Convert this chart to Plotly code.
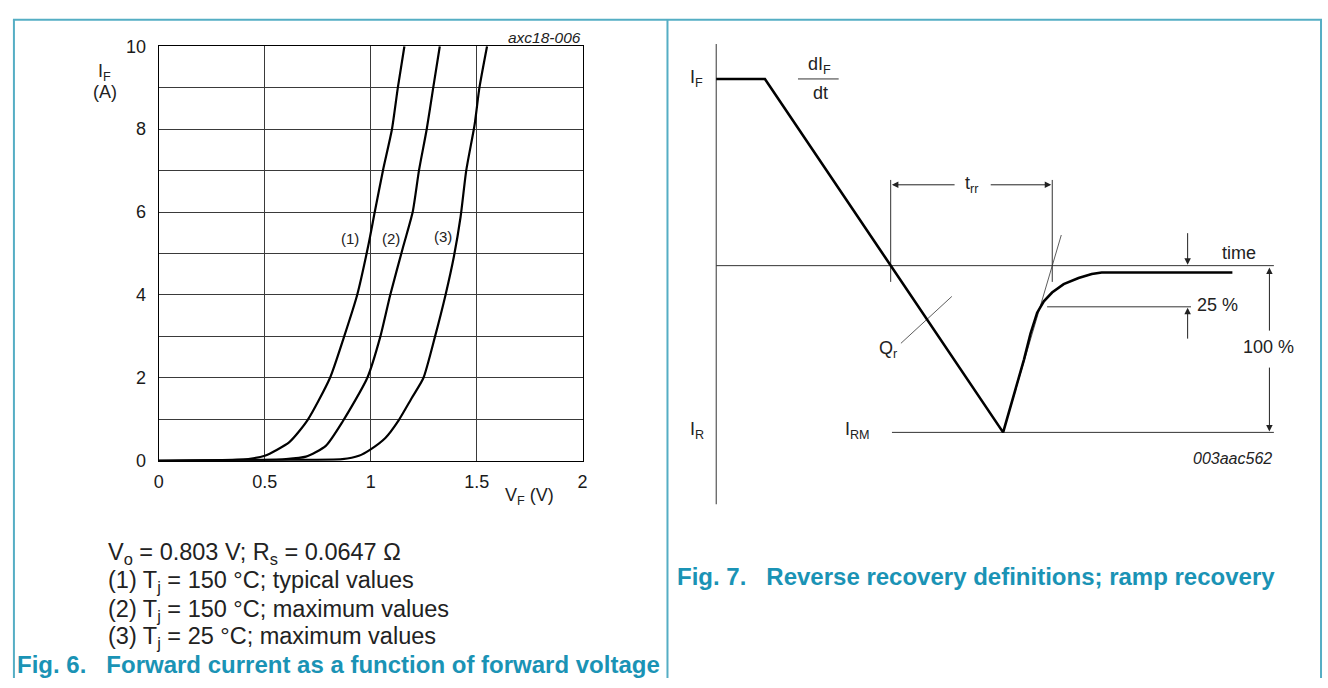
import plotly.graph_objects as go

W, H = 1328, 688
FONT = "Liberation Sans, Arial, sans-serif"
TEAL = "#1a93b5"
BORDER = "#55aec4"

def PX(x):
    return x / W

def PY(y):
    return 1 - y / H

# ---- Fig. 6 data: forward current vs forward voltage ----
vf_1 = [0, 0.30, 0.43, 0.50, 0.616, 0.702, 0.807, 0.874, 0.936, 0.988, 1.019, 1.058, 1.10, 1.128, 1.159]
if_1 = [0, 0.02, 0.05, 0.12, 0.45, 0.98, 1.99, 2.99, 4.00, 5.18, 6.00, 7.01, 7.99, 9.00, 10.0]
vf_2 = [0, 0.45, 0.60, 0.694, 0.788, 0.869, 0.983, 1.045, 1.092, 1.154, 1.198, 1.228, 1.264, 1.295, 1.326]
if_2 = [0, 0.02, 0.04, 0.10, 0.36, 0.96, 1.99, 2.99, 4.00, 5.18, 6.00, 7.01, 7.99, 9.00, 10.0]
vf_3 = [0, 0.60, 0.866, 0.944, 0.998, 1.069, 1.131, 1.193, 1.248, 1.303, 1.353, 1.393, 1.424, 1.451, 1.49, 1.513, 1.549]
if_3 = [0, 0.02, 0.04, 0.12, 0.27, 0.55, 0.97, 1.51, 1.99, 2.99, 4.00, 4.94, 5.88, 7.01, 8.10, 9.00, 10.0]
curve_labels = ["(1)", "(2)", "(3)"]
x_ticks = [0, 0.5, 1, 1.5, 2]
x_ticktext = ["0", "0.5", "1", "1.5", "2"]
y_ticks = list(range(0, 11))
y_ticktext = ["0", "", "2", "", "4", "", "6", "", "8", "", "10"]

# ---- Fig. 7 data: reverse recovery waveform (arbitrary time units, current in units of I_F) ----
wave_t = [0, 4.91, 28.91, 31.01, 31.67, 32.34, 33.01, 33.84, 35.01, 36.51, 37.84, 38.84, 52.01]
wave_i = [1.0, 1.0, -0.893, -0.503, -0.364, -0.252, -0.191, -0.144, -0.0988, -0.066, -0.045, -0.0364, -0.0364]
i_rm = -0.893
t_zero_cross = 17.58
t_rr_end = 33.86
tangent_t = [28.91, 34.77]
tangent_i = [-0.893, 0.164]
qr_t = [23.74, 18.61]
qr_i = [-0.165, -0.416]
level_25 = -0.2205

fig = go.Figure()

# Fig. 6 curves
for vx, iy in [(vf_1, if_1), (vf_2, if_2), (vf_3, if_3)]:
    fig.add_trace(go.Scatter(x=vx, y=iy, mode="lines",
                             line=dict(color="black", width=2.2, shape="spline", smoothing=0.6),
                             hoverinfo="skip", showlegend=False, xaxis="x", yaxis="y"))

# Fig. 7 waveform and construction lines
thin = dict(color="#333333", width=1)
def line2(t, i, ln):
    fig.add_trace(go.Scatter(x=t, y=i, mode="lines", line=ln, hoverinfo="skip",
                             showlegend=False, xaxis="x2", yaxis="y2"))

line2([0, 0], [1.187, -1.278], thin)                 # vertical axis
line2([0, 56.19], [0, 0], thin)                      # time axis
line2([t_zero_cross, t_zero_cross], [0.459, -0.087], thin)
line2([t_rr_end, t_rr_end], [0.459, -0.087], thin)
line2(tangent_t, tangent_i, dict(color="#333333", width=0.8))
line2(qr_t, qr_i, dict(color="#333333", width=0.8))
line2([33.34, 47.84], [level_25, level_25], thin)
line2([17.71, 56.19], [i_rm, i_rm], thin)
line2(wave_t, wave_i, dict(color="black", width=2.6))

# Diagram axes ranges (time unit = 10 px, current unit = 192.3 px)
x2_lo = (667 - 716.6) / 10.0
x2_hi = (1328 - 716.6) / 10.0
y2_lo = (263.3 - 688) / 192.3
y2_hi = (263.3 - 0) / 192.3

tickfont = dict(family=FONT, size=18, color="#1a1a1a")
fig.update_layout(
    width=W, height=H, autosize=False,
    margin=dict(l=0, r=0, t=0, b=0),
    paper_bgcolor="white", plot_bgcolor="rgba(0,0,0,0)",
    font=dict(family=FONT, color="#222222"),
    xaxis=dict(domain=[PX(155), PX(582)], range=[0, 2], tickvals=x_ticks, ticktext=x_ticktext,
               showgrid=True, gridcolor="#3a3a3a", gridwidth=1, zeroline=False,
               showline=True, mirror=True, linecolor="black", linewidth=1.2,
               ticks="", tickfont=tickfont, ticklabelstandoff=4, fixedrange=True),
    yaxis=dict(domain=[PY(464.3), PY(37.3)], range=[0, 10], tickvals=y_ticks,
               ticktext=y_ticktext, showgrid=True, gridcolor="#3a3a3a", gridwidth=1, zeroline=False,
               showline=True, mirror=True, linecolor="black", linewidth=1.2,
               ticks="", tickfont=tickfont, ticklabelstandoff=8, fixedrange=True),
    xaxis2=dict(domain=[PX(667), 1.0], range=[x2_lo, x2_hi], visible=False, anchor="y2", fixedrange=True),
    yaxis2=dict(domain=[0, 1], range=[y2_lo, y2_hi], visible=False, anchor="x2", fixedrange=True),
)

# Panel borders (paper coords)
def pline(x0, y0, x1, y1):
    fig.add_shape(type="line", xref="paper", yref="paper",
                  x0=PX(x0), x1=PX(x1), y0=PY(y0), y1=PY(y1),
                  line=dict(color=BORDER, width=2))
pline(8, 10, 1327, 10)
pline(9, 10, 9, 688)
pline(667.5, 10, 667.5, 688)
pline(1326, 10, 1326, 688)

# dI/dt fraction bar
fig.add_shape(type="line", xref="x2", yref="y2", x0=8.24, x1=12.34, y0=1.0, y1=1.0,
              line=dict(color="#333333", width=1))

ann = []
def txt(x, y, s, size=17, xref="paper", yref="paper", xanchor="center", yanchor="middle", **kw):
    if xref == "paper":
        x = PX(x)
    if yref == "paper":
        y = PY(y)
    ann.append(dict(x=x, y=y, xref=xref, yref=yref, text=s, showarrow=False,
                    xanchor=xanchor, yanchor=yanchor,
                    font=dict(family=FONT, size=size, color=kw.pop("color", "#222222")), **kw))

# Fig. 6 texts
txt(582, 28, "<i>axc18-006</i>", size=15.5, xanchor="right")
txt(100, 64, "I<sub>F</sub>", size=18)
txt(101, 84, "(A)", size=18)
txt(528, 501, "V<sub>F</sub> (V)", size=18)
for lbl, vx, iy in zip(curve_labels, [0.903, 1.095, 1.342], [5.37, 5.37, 5.42]):
    txt(vx, iy, lbl, size=15, xref="x", yref="y")
txt(102, 560, "V<sub>o</sub> = 0.803 V; R<sub>s</sub> = 0.0647 Ω", size=23.5, xanchor="left")
txt(102, 589, "(1) T<sub>j</sub> = 150 °C; typical values", size=23.5, xanchor="left")
txt(102, 618, "(2) T<sub>j</sub> = 150 °C; maximum values", size=23.5, xanchor="left")
txt(102, 646, "(3) T<sub>j</sub> = 25 °C; maximum values", size=23.5, xanchor="left")
txt(10, 674, "<b>Fig. 6.\u00a0\u00a0 Forward current as a function of forward voltage</b>", size=24,
    xanchor="left", color=TEAL)

# Fig. 7 texts
txt(-1.96, 1.0, "I<sub>F</sub>", size=18, xref="x2", yref="y2")
txt(10.4, 1.073, "dI<sub>F</sub>", size=18, xref="x2", yref="y2")
txt(10.5, 0.925, "dt", size=18, xref="x2", yref="y2")
txt(25.74, 0.433, "t<sub>rr</sub>", size=18, xref="x2", yref="y2")
txt(52.64, 0.069, "time", size=18, xref="x2", yref="y2")
txt(48.2, -0.212, "25 %", size=18, xref="x2", yref="y2", xanchor="left")
txt(55.64, -0.435, "100 %", size=18, xref="x2", yref="y2")
txt(17.3, -0.45, "Q<sub>r</sub>", size=18, xref="x2", yref="y2")
txt(-1.96, -0.882, "I<sub>R</sub>", size=18, xref="x2", yref="y2")
txt(14.2, -0.882, "I<sub>RM</sub>", size=18, xref="x2", yref="y2")
txt(56.19, -1.033, "<i>003aac562</i>", size=16, xref="x2", yref="y2", xanchor="right")
txt(675, 583, "<b>Fig. 7.\u00a0\u00a0 Reverse recovery definitions; ramp recovery</b>", size=24,
    xanchor="left", color=TEAL)

# Arrows (Fig. 7)
def arrow(t0, i0, t1, i1):
    ann.append(dict(x=t1, y=i1, ax=t0, ay=i0, xref="x2", yref="y2", axref="x2", ayref="y2",
                    showarrow=True, arrowhead=2, arrowsize=1.3, arrowwidth=1, arrowcolor="#222222",
                    text=""))
arrow(24.17, 0.433, 17.7, 0.433)
arrow(27.51, 0.433, 33.76, 0.433)
arrow(47.5, 0.182, 47.5, 0.005)
arrow(47.5, -0.399, 47.5, -0.225)
arrow(55.74, -0.356, 55.74, -0.01)
arrow(55.74, -0.538, 55.74, -0.888)

fig.update_layout(annotations=ann)
fig.write_html("out.html", config={"displayModeBar": False},
               post_script="document.body.style.margin='0';document.body.style.overflow='hidden';")
